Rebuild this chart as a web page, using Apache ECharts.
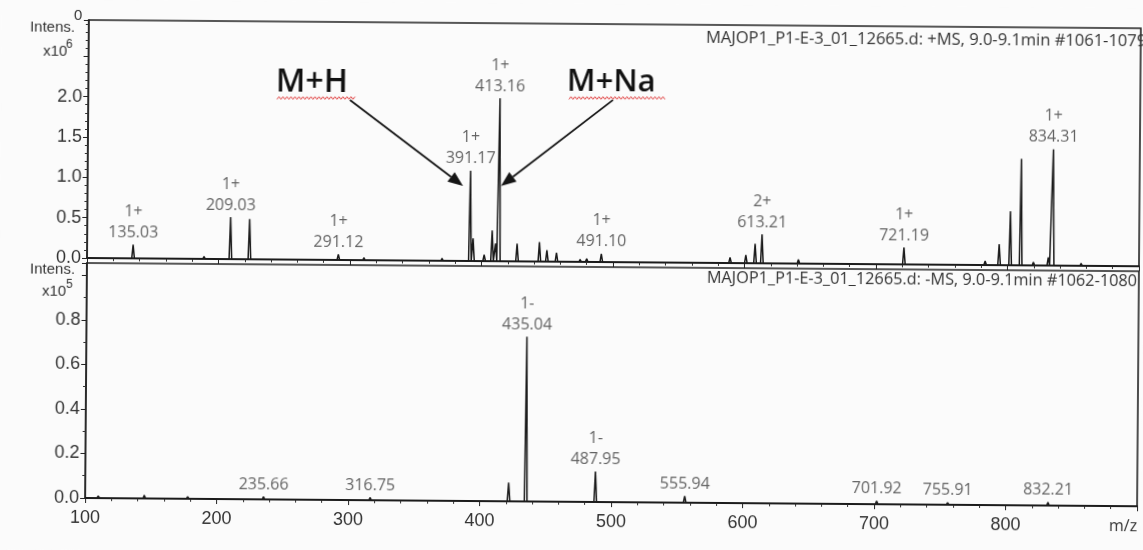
<!DOCTYPE html>
<html><head><meta charset="utf-8">
<script src="https://cdn.jsdelivr.net/npm/echarts@6/dist/echarts.min.js"></script>
<style>
html,body{margin:0;padding:0;background:#fbfbfb;overflow:hidden;}
#c{width:1143px;height:550px;transform:rotate(0.45deg);transform-origin:87px 258px;}
</style></head><body><div id="c"></div>
<script>
// ---- Upper trace: +MS, intensity x10^6 ----
const topMz        = [107, 135.03, 189, 209.03, 223.5, 272.7, 291.12, 310.6, 332, 362.6, 370, 391.17, 393.5, 402, 408, 410.6, 413.16, 427, 444, 449.7, 457, 475, 480, 491.10, 589, 601, 608, 613.21, 641, 721.19, 783, 793.6, 802, 810, 819.7, 831, 834.31, 856];
const topIntensity = [0.02, 0.17, 0.03, 0.52, 0.50, 0.02, 0.07, 0.03, 0.02, 0.02, 0.03, 1.12, 0.28, 0.08, 0.38, 0.22, 2.02, 0.22, 0.24, 0.14, 0.11, 0.03, 0.04, 0.10, 0.07, 0.10, 0.24, 0.36, 0.05, 0.21, 0.05, 0.26, 0.67, 1.32, 0.04, 0.10, 1.44, 0.03];
const topLabelMz     = [135.03, 209.03, 291.12, 391.17, 413.16, 491.10, 613.21, 721.19, 834.31];
const topLabelCharge = ['1+', '1+', '1+', '1+', '1+', '1+', '2+', '1+', '1+'];

// ---- Lower trace: -MS, intensity x10^5 ----
const botMz        = [110, 145, 178, 235.66, 316.75, 422, 435.04, 487.95, 555.94, 701.92, 755.91, 832.21];
const botIntensity = [0.01, 0.015, 0.01, 0.012, 0.012, 0.084, 0.74, 0.137, 0.03, 0.015, 0.01, 0.015];
const botLabelMz     = [235.66, 316.75, 435.04, 487.95, 555.94, 701.92, 755.91, 832.21];
const botLabelCharge = ['', '', '1-', '1-', '', '', '', ''];

// ---- Axis ticks ----
const xTickLabels = [100, 200, 300, 400, 500, 600, 700, 800];
const topYTickLabels = [0.0, 0.5, 1.0, 1.5, 2.0];
const botYTickLabels = [0.0, 0.2, 0.4, 0.6, 0.8];

const X_MIN = 100, X_MAX = 900;
const HW = 1.0;

function sticks(mz, inten) {
  const idx = mz.map((m, i) => i).sort((a, b) => mz[a] - mz[b]);
  const out = [[X_MIN, 0]];
  idx.forEach(i => { out.push([mz[i] - HW, 0], [mz[i], inten[i]], [mz[i] + HW, 0]); });
  out.push([X_MAX, 0]);
  return out;
}
function labels(lmz, charge, mz, inten) {
  return lmz.map((m, i) => [m, inten[mz.indexOf(m)], charge[i], m.toFixed(2)]);
}

// reference-frame -> unrotated chart frame
const ANG = 0.45 * Math.PI / 180, SN = Math.sin(ANG), CS = Math.cos(ANG);
function U(x, y) { const dx = x - 87, dy = y - 258; return [87 + dx * CS + dy * SN, 258 - dx * SN + dy * CS]; }

const gfx = [];
function txt(x, y, s, font, fill, align) {
  const p = U(x, y);
  gfx.push({ type: 'text', x: p[0], y: p[1], silent: true,
    style: { text: s, font: font, fill: fill, textAlign: align || 'left', textVerticalAlign: 'middle' } });
}
function arrow(x1, y1, x2, y2) {
  const a = U(x1, y1), b = U(x2, y2);
  const L = Math.hypot(b[0] - a[0], b[1] - a[1]);
  const ux = (b[0] - a[0]) / L, uy = (b[1] - a[1]) / L;
  const hl = 15, hw = 6;
  const bx = b[0] - ux * hl, by = b[1] - uy * hl;
  gfx.push({ type: 'line', silent: true, shape: { x1: a[0], y1: a[1], x2: bx, y2: by }, style: { stroke: '#151515', lineWidth: 1.8 } });
  gfx.push({ type: 'polygon', silent: true, shape: { points: [[b[0], b[1]], [bx - uy * hw, by + ux * hw], [bx + uy * hw, by - ux * hw]] }, style: { fill: '#151515' } });
}
function wavy(x1, x2, y) {
  const pts = [];
  let k = 0;
  for (let x = x1; x <= x2; x += 2) { pts.push(U(x, y + (k % 2 ? -1.3 : 1.3))); k++; }
  gfx.push({ type: 'polyline', silent: true, shape: { points: pts }, style: { stroke: '#e03a3a', lineWidth: 1, fill: null } });
}

const AX = 'Liberation Sans, Arial, sans-serif';
const LF = 'Open Sans, sans-serif';
txt(78, 16, '0', '15px ' + AX, '#333', 'center');
txt(30, 27, 'Intens.', '15px ' + AX, '#333');
txt(43, 52, 'x10', '15px ' + AX, '#333');
txt(66, 45, '6', '12px ' + AX, '#333');
txt(30, 269, 'Intens.', '15px ' + AX, '#333');
txt(42, 292, 'x10', '15px ' + AX, '#333');
txt(66, 285, '5', '12px ' + AX, '#333');
txt(706, 38, 'MAJOP1_P1-E-3_01_12665.d: +MS, 9.0-9.1min #1061-1079', '16.5px ' + LF, '#333');
txt(1137, 282, 'MAJOP1_P1-E-3_01_12665.d: -MS, 9.0-9.1min #1062-1080', '16.3px ' + LF, '#333', 'right');
txt(1123, 527, 'm/z', '16px ' + LF, '#333', 'center');
txt(276, 82, 'M+H', '600 32px ' + LF, '#111');
txt(567, 82, 'M+Na', '600 31px ' + LF, '#111');
wavy(277, 356, 98);
wavy(569, 665, 98);
arrow(350, 100, 463, 186);
arrow(613, 100, 501, 186);

const axisDark = '#222';
function xAxis(grid, showLabels) {
  return {
    type: 'value', gridIndex: grid, min: X_MIN, max: X_MAX, interval: 100,
    axisLine: { show: true, onZero: false, lineStyle: { color: axisDark, width: 1.8 } },
    axisTick: { show: true, length: 5, lineStyle: { color: axisDark } },
    minorTick: { show: true, splitNumber: 5, length: 3, lineStyle: { color: '#333' } },
    splitLine: { show: false },
    axisLabel: { show: showLabels, margin: 11, fontSize: 18, fontFamily: AX, color: '#333',
      formatter: v => (xTickLabels.indexOf(v) >= 0 ? String(v) : '') }
  };
}
function yAxis(grid, max, interval, minorSplit, tickList) {
  return {
    type: 'value', gridIndex: grid, min: 0, max: max, interval: interval,
    axisLine: { show: true, lineStyle: { color: axisDark, width: 1.6 } },
    axisTick: { show: true, length: 5, lineStyle: { color: axisDark } },
    minorTick: { show: true, splitNumber: minorSplit, length: 3, lineStyle: { color: '#333' } },
    splitLine: { show: false },
    axisLabel: { margin: 6, fontSize: 18, fontFamily: AX, color: '#333',
      formatter: v => (tickList.some(t => Math.abs(t - v) < 1e-6) ? v.toFixed(1) : '') }
  };
}
function labelSeries(xi, data) {
  return {
    type: 'scatter', xAxisIndex: xi, yAxisIndex: xi, data: data, symbolSize: 1, silent: true,
    itemStyle: { color: 'rgba(0,0,0,0)' },
    label: { show: true, position: 'top', distance: 1, fontFamily: LF, fontSize: 16, lineHeight: 21,
      color: '#3c3c3c', align: 'center',
      formatter: p => (p.data[2] ? p.data[2] + '\n' + p.data[3] : p.data[3]) }
  };
}

const chart = echarts.init(document.getElementById('c'), null, { renderer: 'canvas' });
chart.setOption({
  animation: false,
  backgroundColor: '#fbfbfb',
  grid: [
    { left: 87, top: 20, width: 1052, height: 238, show: true, borderColor: axisDark, borderWidth: 1.6, backgroundColor: 'transparent' },
    { left: 87, top: 263, width: 1052, height: 235, show: true, borderColor: axisDark, borderWidth: 1.6, backgroundColor: 'transparent' }
  ],
  xAxis: [xAxis(0, false), xAxis(1, true)],
  yAxis: [yAxis(0, 2.95, 0.5, 5, topYTickLabels), yAxis(1, 1.055, 0.2, 2, botYTickLabels)],
  series: [
    { type: 'line', xAxisIndex: 0, yAxisIndex: 0, data: sticks(topMz, topIntensity), symbol: 'none', silent: true,
      lineStyle: { color: '#1a1a1a', width: 1.5 } },
    { type: 'line', xAxisIndex: 1, yAxisIndex: 1, data: sticks(botMz, botIntensity), symbol: 'none', silent: true,
      lineStyle: { color: '#1a1a1a', width: 1.5 } },
    labelSeries(0, labels(topLabelMz, topLabelCharge, topMz, topIntensity)),
    labelSeries(1, labels(botLabelMz, botLabelCharge, botMz, botIntensity))
  ],
  graphic: gfx
});
</script></body></html>
